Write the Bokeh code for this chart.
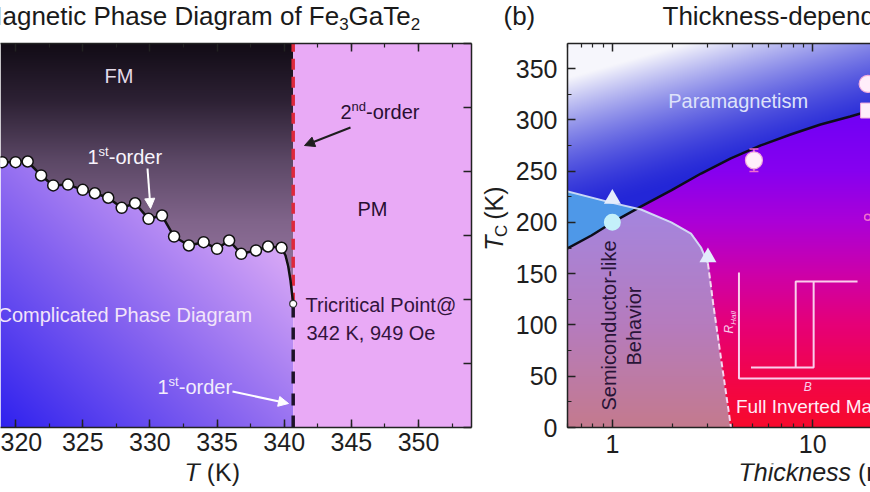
import numpy as np
from bokeh.plotting import figure
from bokeh.layouts import row, column
from bokeh.models import (Range1d, LinearAxis, LogAxis, Label, Arrow, NormalHead,
                          FixedTicker, SingleIntervalTicker, PrintfTickFormatter)
from bokeh.embed import file_html
from bokeh.resources import INLINE

FONT = "Liberation Sans"

# ---------------- Panel (a): Fe3GaTe2 magnetic phase diagram ----------------
temp_K = [319.0, 320.0, 320.9, 321.9, 322.8, 323.9, 325.0, 325.9, 326.9, 327.9, 328.9,
          329.9, 330.9, 331.8, 332.9, 334.0, 335.0, 335.9, 336.8, 337.9, 338.8, 339.8]
field_Oe = [2073, 2073, 2078, 1969, 1891, 1898, 1857, 1830, 1795, 1716, 1752,
            1630, 1656, 1492, 1422, 1448, 1396, 1461, 1357, 1383, 1414, 1404]
drop_T = [339.8, 340.1, 340.3, 340.47, 340.6, 340.67]
drop_H = [1404, 1344, 1260, 1148, 1030, 966]
tricrit_T = [340.67]
tricrit_H = [966]

# ---------------- Panel (b): thickness-dependent phase diagram ----------------
fit_t = [0.597, 0.786, 1.0, 1.394, 1.967, 2.772, 3.904, 5.504, 7.76, 10.94, 15.4, 19.5]
fit_tc = [174.5, 187.2, 199.9, 215.5, 231.1, 247.6, 262.3, 275.0, 285.7, 295.4, 303.2, 309.1]
sc_t = [0.55, 1.0, 1.39, 1.97, 2.47, 2.77, 3.0]
sc_tc = [232.0, 219.0, 212.5, 200.0, 189.0, 175.5, 160.0]
sc_dash_t = [3.0, 3.19, 3.53, 3.91]
sc_dash_tc = [160.0, 120.0, 60.0, 0.0]
tri_t = [1.0, 3.0]
tri_tc = [223.0, 166.0]
cyan_t = [1.0]
cyan_tc = [200.0]
circ_t = [5.09, 18.8]
circ_tc = [260.5, 335.0]
err_t = [5.09]
err_tc = [260.5]
err_dtc = [11.0]
sq_t = [18.9]
sq_tc = [309.0]
small_t = [18.8]
small_tc = [205.0]
# schematic Hall loop inset (inset-local units 0..1)
loop_B = [0.09, 0.558, 0.558, 0.886, 0.424, 0.424, 0.09]
loop_R = [0.104, 0.104, 0.916, 0.916, 0.916, 0.104, 0.104]

# ---------------- geometry helpers (page px -> data) ----------------
def ax(sx):
    return 340 + (sx - 283.7) / 13.43

def ay(sy):
    return (427 - sy) * 7.8125

def bx(sx):
    return 10 ** ((sx - 611) / 201.0)

def by(sy):
    return (427 - sy) / 1.02571

def ident(v):
    return v

A_X0, A_X1 = ax(0), ax(471)
B_X0, B_X1 = bx(566), bx(870)
B_Y1 = by(43)

W = {' ': 278, '(': 333, ')': 333, '-': 333, '@': 1015, ',': 278, '.': 278,
     'A': 667, 'B': 667, 'C': 722, 'D': 722, 'E': 667, 'F': 611, 'G': 778, 'H': 722,
     'I': 278, 'K': 667, 'L': 556, 'M': 833, 'N': 722, 'O': 778, 'P': 667, 'R': 722,
     'S': 667, 'T': 611, 'a': 556, 'b': 556, 'c': 500, 'd': 556, 'e': 556, 'f': 278,
     'g': 556, 'h': 556, 'i': 222, 'k': 500, 'l': 222, 'm': 833, 'n': 556, 'o': 556,
     'p': 556, 'r': 333, 's': 500, 't': 278, 'u': 556, 'v': 500, 'x': 500, 'y': 500,
     'z': 500}
KERN = {'Te': -111, 'Ta': -111, 'To': -111}

def tw(s, size):
    w = sum(W.get(c, 556) for c in s)
    w += sum(KERN.get(s[i:i + 2], 0) for i in range(len(s) - 1))
    return w * size / 1000.0

def rich(p, fx, fy, sx, sy, pieces, color, rotate=False):
    # sx, sy: start of the text baseline (page px); the label is anchored at cap centre
    adv = 0.0
    for text, size, shift, style in pieces:
        lead = text[:len(text) - len(text.lstrip())]
        adv += tw(lead, size)
        body = text.lstrip()
        k = 0.36 * size + 1.0
        if rotate:
            px, py, ang = sx + shift - k, sy - adv, np.pi / 2
        else:
            px, py, ang = sx + adv, sy + shift - k, 0.0
        p.add_layout(Label(x=fx(px), y=fy(py), text=body, text_font=FONT,
                           text_font_size=f"{size}px", text_font_style=style,
                           text_color=color, text_align="left",
                           text_baseline="alphabetic", angle=ang))
        adv += tw(body, size)

def arrow(p, fx, fy, s0, s1, color):
    p.add_layout(Arrow(end=NormalHead(size=10, fill_color=color, line_color=color, line_width=1),
                       x_start=fx(s0[0]), y_start=fy(s0[1]), x_end=fx(s1[0]), y_end=fy(s1[1]),
                       line_color=color, line_width=2))

def ramp(v, stops, colors):
    colors = np.array(colors, float)
    return np.stack([np.interp(v, stops, colors[:, k]) for k in range(3)], axis=-1)

def pack(rgb):
    h, w, _ = rgb.shape
    img = np.empty((h, w), dtype=np.uint32)
    v = img.view(dtype=np.uint8).reshape((h, w, 4))
    v[..., :3] = np.clip(rgb, 0, 255).astype(np.uint8)
    v[..., 3] = 255
    return img

def style_axis(a, size="25px", standoff=2, labels=True):
    a.axis_line_color = "#222222"
    a.axis_line_width = 1.5
    a.major_tick_in = 8
    a.major_tick_out = 0
    a.minor_tick_in = 4
    a.minor_tick_out = 0
    a.major_tick_line_color = "#222222"
    a.minor_tick_line_color = "#222222"
    a.major_tick_line_width = 1.5
    a.minor_tick_line_width = 1.2
    a.major_label_text_font = FONT
    if labels:
        a.major_label_text_color = "#1e1e1e"
        a.major_label_text_font_size = size
        a.major_label_standoff = standoff
    else:
        a.major_label_text_color = None
        a.major_label_text_font_size = "1px"
        a.major_label_standoff = 0

def blank(width, height, x0, x1, y0, y1):
    f = figure(width=width, height=height, x_range=Range1d(x0, x1), y_range=Range1d(y1, y0),
               output_backend="svg", toolbar_location=None, min_border=0, title=None,
               x_axis_location=None, y_axis_location=None)
    f.outline_line_color = None
    f.background_fill_color = "white"
    f.border_fill_color = "white"
    for g in f.grid:
        g.visible = False
    return f

ROW_H = 426

# ======================= Header (titles) =======================
head = blank(870, 37, 0, 870, 0, 37)
rich(head, ident, ident, -19.7, 26, [("Magnetic Phase Diagram of Fe", 26, 0, "normal"), ("3", 17, 5, "normal"),
                                     ("GaTe", 26, 0, "normal"), ("2", 17, 5, "normal")], "#1a1a1a")
rich(head, ident, ident, 503, 26, [("(b)", 26, 0, "normal")], "#1a1a1a")
rich(head, ident, ident, 662, 26, [("Thickness-dependent Phase Diagram", 26, 0, "normal")], "#1a1a1a")

# ======================= Panel (a) =======================
p1 = figure(width=481, height=ROW_H, x_range=Range1d(A_X0, A_X1), y_range=Range1d(0, 3000),
            output_backend="svg", toolbar_location=None, y_axis_location="right", title=None,
            min_border_left=0, min_border_right=10, min_border_top=6, min_border_bottom=ROW_H - 390)
p1.outline_line_color = None
p1.xgrid.visible = False
p1.ygrid.visible = False
p1.xaxis.ticker = SingleIntervalTicker(interval=5, num_minor_ticks=2)
style_axis(p1.xaxis[0], standoff=5)
p1.yaxis.ticker = SingleIntervalTicker(interval=500, num_minor_ticks=0)
style_axis(p1.yaxis[0], labels=False)
top1 = LinearAxis(ticker=SingleIntervalTicker(interval=5, num_minor_ticks=2))
style_axis(top1, labels=False)
p1.add_layout(top1, "above")

line_T = np.array(temp_K + drop_T[1:])
line_H = np.array(field_Oe + drop_H[1:])
nxa = int(round((tricrit_T[0] - A_X0) * 13.43))
nya = 384
Tg = A_X0 + (np.arange(nxa) + 0.5) * (tricrit_T[0] - A_X0) / nxa
Hg = (np.arange(nya) + 0.5) * 3000.0 / nya
Hc = np.interp(Tg, line_T, line_H)
TT, HH = np.meshgrid(Tg, Hg)
SX = 283.7 + (TT - 340) * 13.43
SY = 427 - HH / 7.8125
upper = HH > Hc[None, :]
col_up = ramp(SY, [43, 100, 160, 220, 305],
              [(18, 12, 22), (45, 33, 52), (92, 72, 102), (128, 100, 138), (160, 125, 170)])
t = np.clip(0.6 * (SX + 20) / 313.0 + 0.55 * (427 - SY) / 270.0, 0, 1)
col_lo = ramp(t, [0, 0.5, 1], [(40, 28, 238), (135, 100, 240), (228, 178, 247)])
rgb_a = np.where(upper[..., None], col_up, col_lo)
p1.image_rgba(image=[pack(rgb_a)], x=A_X0, y=0, dw=tricrit_T[0] - A_X0, dh=3000)
p1.quad(left=tricrit_T, right=[A_X1], bottom=[0], top=[3000],
        fill_color=(233, 170, 246), line_color=None)

p1.segment(x0=tricrit_T, y0=tricrit_H, x1=tricrit_T, y1=[3000],
           line_color=(222, 40, 60), line_width=3.5, line_dash="11 7")
p1.segment(x0=tricrit_T, y0=[0], x1=tricrit_T, y1=tricrit_H,
           line_color=(30, 18, 40), line_width=3.5, line_dash="12 10")
p1.line(temp_K, field_Oe, line_color="#111111", line_width=2.5)
p1.line(drop_T, drop_H, line_color="#111111", line_width=2.5)
p1.scatter(temp_K, field_Oe, size=11, fill_color="white", line_color="#111111", line_width=1.5)
p1.scatter(tricrit_T, tricrit_H, size=7, fill_color="white", line_color="#333333", line_width=1.2)

dark = (40, 15, 50)
rich(p1, ax, ay, 104, 84, [("FM", 20, 0, "normal")], (228, 218, 232))
rich(p1, ax, ay, 87, 165, [("1", 20, 0, "normal"), ("st", 13, -8, "normal"), ("-order", 20, 0, "normal")], (248, 244, 252))
rich(p1, ax, ay, -3, 323, [("Complicated Phase Diagram", 20, 0, "normal")], (242, 228, 250))
rich(p1, ax, ay, 157, 395, [("1", 20, 0, "normal"), ("st", 13, -8, "normal"), ("-order", 20, 0, "normal")], (242, 236, 252))
rich(p1, ax, ay, 340, 120, [("2", 20, 0, "normal"), ("nd", 13, -8, "normal"), ("-order", 20, 0, "normal")], dark)
rich(p1, ax, ay, 357, 217, [("PM", 20, 0, "normal")], dark)
rich(p1, ax, ay, 305, 313, [("Tricritical Point@", 20, 0, "normal")], (50, 20, 60))
rich(p1, ax, ay, 306, 341, [("342 K, 949 Oe", 20, 0, "normal")], (50, 20, 60))
arrow(p1, ax, ay, (147, 168), (150, 208), "white")
arrow(p1, ax, ay, (232, 391), (288, 403), "white")
arrow(p1, ax, ay, (350, 127), (304, 145), "#1e1e1e")

# ======================= y label strip =======================
ylab = blank(31, ROW_H, 481, 512, 37, 37 + ROW_H)
rich(ylab, ident, ident, 503, 267, [("T", 25, 0, "italic"), ("C", 17, 5, "normal"), (" (K)", 25, 0, "normal")],
     "#1e1e1e", rotate=True)

# ======================= Panel (b) =======================
p2 = figure(width=358, height=ROW_H, x_axis_type="log", x_range=Range1d(B_X0, B_X1),
            y_range=Range1d(0, B_Y1), output_backend="svg", toolbar_location=None, title=None,
            min_border_left=54, min_border_right=0, min_border_top=6, min_border_bottom=ROW_H - 390)
p2.outline_line_color = None
p2.xgrid.visible = False
p2.ygrid.visible = False
minor_b = [0.6, 0.7, 0.8, 0.9, 2, 3, 4, 5, 6, 7, 8, 9, 20]
p2.xaxis.ticker = FixedTicker(ticks=[1, 10], minor_ticks=minor_b)
p2.xaxis.formatter = PrintfTickFormatter(format="%d")
style_axis(p2.xaxis[0], standoff=7)
p2.yaxis.ticker = SingleIntervalTicker(interval=50, num_minor_ticks=2)
style_axis(p2.yaxis[0], standoff=10)
top2 = LogAxis(ticker=FixedTicker(ticks=[1, 10], minor_ticks=minor_b),
               formatter=PrintfTickFormatter(format="%d"))
style_axis(top2, labels=False)
p2.add_layout(top2, "above")

LX0, LX1 = np.log10(B_X0), np.log10(B_X1)
nxb, nyb = 304, 384
LX = LX0 + (np.arange(nxb) + 0.5) * (LX1 - LX0) / nxb
TCg = (np.arange(nyb) + 0.5) * B_Y1 / nyb
fit_at = np.interp(LX, np.log10(fit_t), fit_tc)
sc_all_t = sc_t + sc_dash_t[1:]
sc_all_tc = sc_tc + sc_dash_tc[1:]
sc_at = np.interp(LX, np.log10(sc_all_t), sc_all_tc, right=-1.0)
LL, CC = np.meshgrid(LX, TCg)
SXb = 611 + LL * 201
SYb = 427 - CC * 1.02571
above = CC > fit_at[None, :]
in_sc = CC < sc_at[None, :]
s = np.clip(1.25 - (SYb - 43) / 140.0 - (SXb - 566) / 480.0, 0, 1) ** 1.5
blue = np.array([35, 38, 215], float)
whitec = np.array([246, 246, 252], float)
para = blue + (whitec - blue) * s[..., None]
fm = ramp(CC, [0, 50, 100, 150, 200, 250, 300, 380],
          [(248, 10, 45), (242, 5, 75), (230, 0, 120), (205, 0, 170), (172, 0, 215),
           (135, 0, 240), (115, 0, 245), (110, 0, 245)])
sc_m = ramp(CC, [0, 100, 230], [(196, 122, 142), (182, 124, 190), (162, 135, 228)])
sc_b = np.broadcast_to(np.array([78, 152, 232], float), para.shape)
rgb_b = np.where(above[..., None], para, fm)
rgb_b = np.where((in_sc & above)[..., None], sc_b, rgb_b)
rgb_b = np.where((in_sc & ~above)[..., None], sc_m, rgb_b)
p2.image_rgba(image=[pack(rgb_b)], x=B_X0, y=0, dw=B_X1 - B_X0, dh=B_Y1)

p2.line(fit_t, fit_tc, line_color="#0d0d1a", line_width=2.5)
p2.line(sc_t, sc_tc, line_color=(215, 228, 248), line_width=2, line_alpha=0.9)
p2.line(sc_dash_t, sc_dash_tc, line_color=(245, 215, 240), line_width=2, line_dash="6 3")

IN_LX0, IN_LX1, IN_T0, IN_T1 = 0.632, 1.30, 47.8, 151.0
def inx(u):
    return [10 ** (IN_LX0 + ui * (IN_LX1 - IN_LX0)) for ui in u]
def iny(v):
    return [IN_T0 + vi * (IN_T1 - IN_T0) for vi in v]
pink_l = (250, 205, 236)
p2.line(inx([0, 0, 1.4]), iny([1, 0, 0]), line_color=pink_l, line_width=2)
p2.line(inx(loop_B), iny(loop_R), line_color=pink_l, line_width=2)

err_lo = [c - e for c, e in zip(err_tc, err_dtc)]
err_hi = [c + e for c, e in zip(err_tc, err_dtc)]
pink = (240, 110, 205)
p2.segment(x0=err_t, y0=err_lo, x1=err_t, y1=err_hi, line_color=pink, line_width=1.5)
p2.scatter(err_t + err_t, err_lo + err_hi, marker="dash", size=9, line_color=pink, line_width=1.5)
p2.scatter(tri_t, tri_tc, marker="triangle", size=17, fill_color=(228, 236, 252), line_color=None)
p2.scatter(cyan_t, cyan_tc, size=17, fill_color=(196, 240, 250), line_color=None)
p2.scatter(circ_t, circ_tc, size=17, fill_color=(255, 238, 250), line_color=(240, 170, 220), line_width=1.2)
p2.scatter(sq_t, sq_tc, marker="square", size=15, fill_color=(255, 238, 250), line_color=(240, 170, 220))
p2.scatter(small_t, small_tc, size=6, fill_color=None, line_color=pink, line_width=1.5)

rich(p2, bx, by, 667, 109, [("Paramagnetism", 20, 0, "normal")], (222, 226, 250))
rich(p2, bx, by, 616, 410, [("Semiconductor-like", 20, 0, "normal")], (40, 20, 55), rotate=True)
rich(p2, bx, by, 641, 365, [("Behavior", 20, 0, "normal")], (40, 20, 55), rotate=True)
rich(p2, bx, by, 735, 414, [("Full Inverted Magnetization", 19, 0, "normal")], (255, 236, 246))
rich(p2, bx, by, 733, 333, [("R", 12, 0, "italic"), ("Hall", 8, 3, "italic")], pink_l, rotate=True)
rich(p2, bx, by, 803, 392, [("B", 12, 0, "italic")], pink_l)

# ======================= Footer (axis titles) =======================
FOOT_TOP = 37 + ROW_H
foot = blank(870, 492 - FOOT_TOP, 0, 870, FOOT_TOP, 492)
rich(foot, ident, ident, 184, 481, [("T", 25, 0, "italic"), (" (K)", 25, 0, "normal")], "#1e1e1e")
rich(foot, ident, ident, 738, 481, [("Thickness", 25, 0, "italic"), (" (nm)", 25, 0, "normal")], "#1e1e1e")

layout = column(head, row(p1, ylab, p2), foot)
open("out.html", "w").write(file_html(layout, INLINE))
